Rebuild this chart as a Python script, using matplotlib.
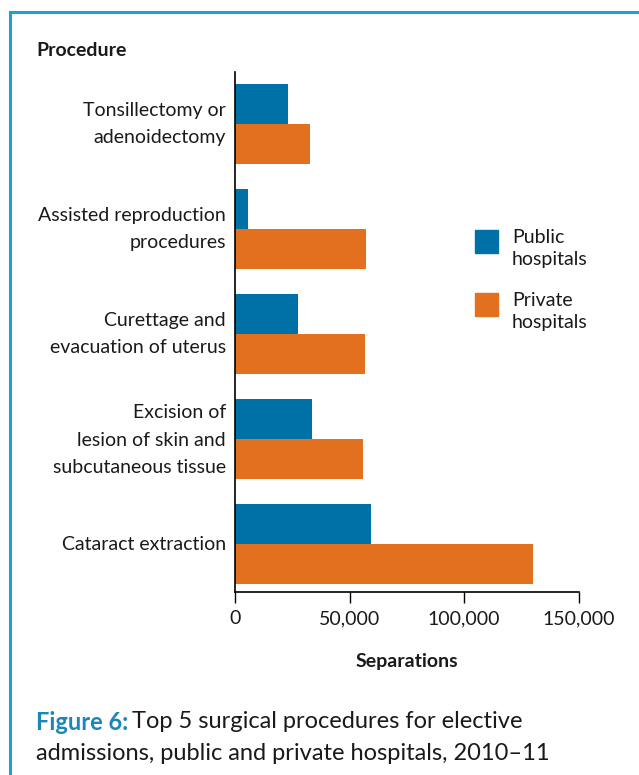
import matplotlib
matplotlib.use("Agg")
import matplotlib.pyplot as plt
from matplotlib.patches import Rectangle
from matplotlib.ticker import FuncFormatter
from matplotlib.transforms import offset_copy
import numpy as np

categories = ["Tonsillectomy or\nadenoidectomy",
              "Assisted reproduction\nprocedures",
              "Curettage and\nevacuation of uterus",
              "Excision of\nlesion of skin and\nsubcutaneous tissue",
              "Cataract extraction"]
public = [23100, 5700, 27500, 33800, 59400]
private = [32700, 57200, 56800, 55900, 130100]
series_names = ["Public\nhospitals", "Private\nhospitals"]
xticks = [0, 50000, 100000, 150000]

C_PUB = "#0071A6"
C_PRI = "#E3701F"
TXT = "#1a1a1a"
FONT = ["Lato", "DejaVu Sans"]
plt.rcParams['font.family'] = FONT
FS = 14

W, H = 639, 775
fig = plt.figure(figsize=(W/100, H/100), dpi=100)

def fx(px):
    return px / W

def fy(py):
    return 1 - py / H

# border
fig.patches.append(Rectangle((fx(10), -0.1), 1.0, fy(12) + 0.1, transform=fig.transFigure,
                             fill=False, edgecolor="#1AA0DC", linewidth=2.2))

ax = fig.add_axes([fx(235), fy(592), 343.5/W, 520/H])
y = np.arange(len(categories))
bh = 40/105
ax.barh(y - bh/2, public, height=bh, color=C_PUB)
ax.barh(y + bh/2, private, height=bh, color=C_PRI)
ax.set_xlim(0, 150000)
ax.set_ylim(4 + 48/105, -52/105)
ax.set_yticks(y)
ax.set_yticklabels([])
ax.tick_params(axis='y', length=0)
# category labels drawn as text at the category positions
ytrans = ax.get_yaxis_transform()
for yi, cat in zip(y, categories):
    nl = cat.count("\n")
    tr = offset_copy(ytrans, fig=fig, x=-6.5, y=(-0.8 if nl == 2 else 0), units='points')
    ax.text(0, yi, cat, transform=tr, ha="right", va="center", fontsize=FS,
            color=TXT, linespacing=1.75)

ax.set_xticks(xticks)
ax.xaxis.set_major_formatter(FuncFormatter(lambda v, p: f"{int(v):,}"))
ax.tick_params(axis='x', length=8, width=1, labelsize=FS, labelcolor=TXT, pad=5)
for s in ["top", "right"]:
    ax.spines[s].set_visible(False)
for s in ["left", "bottom"]:
    ax.spines[s].set_linewidth(1.2)
    ax.spines[s].set_color("black")

ax.set_xlabel("Separations", fontsize=FS, fontweight="bold", color=TXT, labelpad=19)
fig.text(fx(36), fy(50), "Procedure", fontsize=FS, fontweight="bold", color=TXT,
         va="center", ha="left")

# legend drawn manually
leg_items = [(series_names[0], C_PUB, 230), (series_names[1], C_PRI, 293)]
for name, col, top in leg_items:
    fig.patches.append(Rectangle((fx(475), fy(top + 23)), 23/W, 23/H,
                                 transform=fig.transFigure, color=col))
    fig.text(fx(512), fy(top + 35), name, fontsize=FS, color=TXT, va="baseline",
             ha="left", linespacing=1.33)

CFS = 17
fig.text(fx(36), fy(722), "Figure 6:", fontsize=CFS, fontweight="bold", color="#1B87B8",
         va="center", ha="left")
fig.text(fx(36), fy(754), "admissions, public and private hospitals, 2010\u201311", fontsize=CFS,
         color=TXT, va="center", ha="left")
r = fig.canvas.get_renderer()
lbl = [t for t in fig.texts if t.get_text() == "Figure 6:"][0]
bb = lbl.get_window_extent(renderer=r)
fig.text((bb.x1 + 4)/W, fy(722), "Top 5 surgical procedures for elective", fontsize=CFS,
         color=TXT, va="center", ha="left")

fig.savefig("out.png", dpi=100)
